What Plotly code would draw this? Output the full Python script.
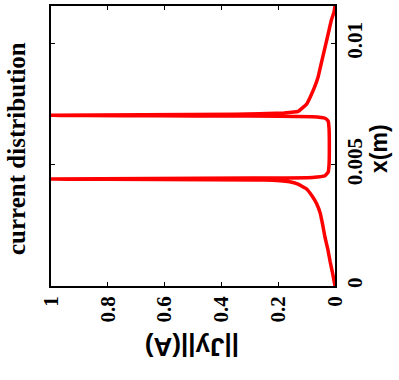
import plotly.graph_objects as go

# position along the conductor (m) and current magnitude ||Jy|| (A)
position_m = [0.0, 0.0005, 0.0010, 0.0015, 0.0020, 0.0025, 0.0030, 0.0034, 0.0037,
              0.0040, 0.0042, 0.0043, 0.00437, 0.00441, 0.00445, 0.00448, 0.00455,
              0.00470, 0.0050, 0.0055, 0.0060, 0.0065, 0.00680, 0.00692, 0.00698,
              0.00701, 0.00704, 0.00708, 0.00714, 0.00720, 0.00750, 0.00780,
              0.00820, 0.00860, 0.00900, 0.00950, 0.01000, 0.01050, 0.01100,
              0.01130, 0.01155]
current_a = [0.0, 0.008, 0.017, 0.025, 0.035, 0.043, 0.052, 0.065, 0.080,
             0.100, 0.130, 0.160, 0.25, 1.0, 0.30, 0.08, 0.035,
             0.024, 0.021, 0.020, 0.020, 0.021, 0.024, 0.035, 0.08,
             0.30, 1.0, 0.35, 0.18, 0.13, 0.10, 0.087,
             0.072, 0.060, 0.052, 0.042, 0.032, 0.022, 0.012,
             0.0035, 0.0]

j_ticks = [0, 0.2, 0.4, 0.6, 0.8, 1]
j_labels = ["0", "0.2", "0.4", "0.6", "0.8", "1"]
x_ticks = [0, 0.005, 0.01]
x_labels = ["0", "0.005", "0.01"]

fig = go.Figure()
fig.add_trace(go.Scatter(x=current_a, y=position_m, mode="lines",
                         line=dict(color="#ff0000", width=3.5, shape="spline", smoothing=0.3),
                         showlegend=False))

tickfont = dict(family="Liberation Serif, serif", size=21, color="black")
fig.update_xaxes(range=[1, 0], tickvals=j_ticks, ticktext=["<b>%s</b>" % s for s in j_labels],
                 tickangle=-90,
                 ticks="inside", ticklen=4, tickcolor="black", mirror="ticks",
                 showline=True, linecolor="black", linewidth=1.5, showgrid=False,
                 zeroline=False, tickfont=tickfont)
fig.update_yaxes(range=[0, 0.01155], tickvals=x_ticks, ticktext=["<b>%s</b>" % s for s in x_labels],
                 tickangle=-90,
                 side="right", ticks="inside", ticklen=4, tickcolor="black", mirror="ticks",
                 showline=True, linecolor="black", linewidth=1.5, showgrid=False,
                 zeroline=False, tickfont=tickfont)

fig.add_annotation(text="<b>current distribution</b>", x=17, y=148, showarrow=False, textangle=-90,
                   font=dict(family="Liberation Serif, serif", size=25, color="black"))
fig.add_annotation(text="<b>x(m)</b>", x=379, y=148, showarrow=False, textangle=-90,
                   font=dict(family="Liberation Sans", size=23, color="black"))
fig.add_annotation(text="<b>||Jy||(A)</b>", x=192, y=348, showarrow=False, textangle=180,
                   font=dict(family="Liberation Sans", size=26, color="black"))

# convert pixel-based annotation positions to paper coords
W, H = 399, 380
L, R, T, B = 51, 64, 4, 94
pw, ph = W - L - R, H - T - B
for a in fig.layout.annotations:
    px, py = a.x, a.y
    a.x = (px - L) / pw
    a.y = 1 - (py - T) / ph
    a.xref = "paper"
    a.yref = "paper"
    a.xanchor = "center"
    a.yanchor = "middle"

fig.update_layout(width=W, height=H, margin=dict(l=L, r=R, t=T, b=B),
                  paper_bgcolor="white", plot_bgcolor="white")
fig.write_html("out.html")
